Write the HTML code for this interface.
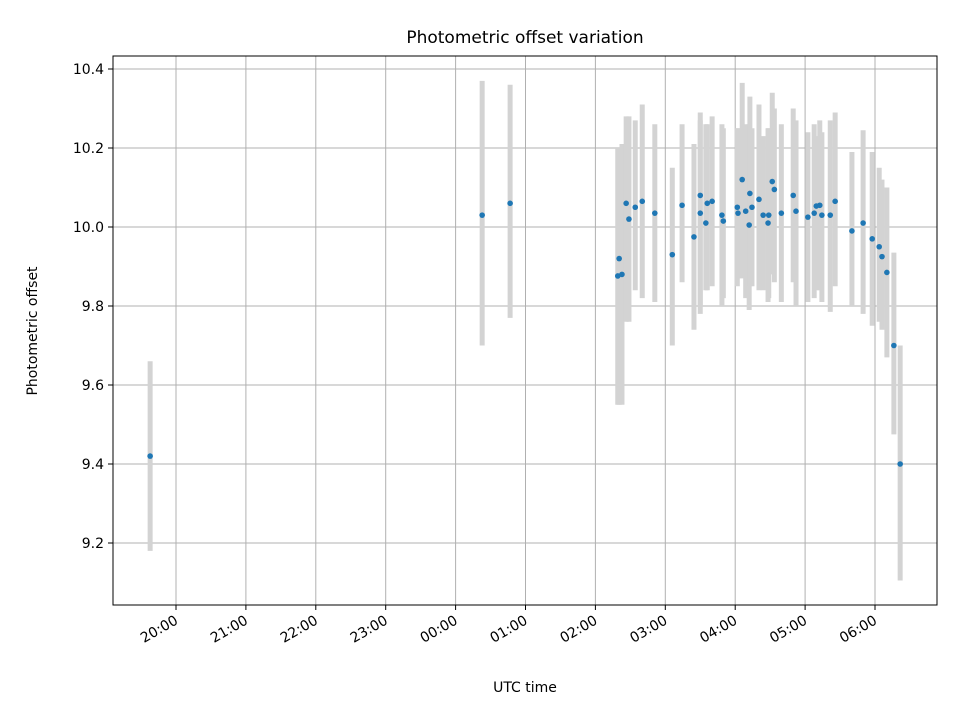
<!DOCTYPE html>
<html><head><meta charset="utf-8"><style>
body{margin:0;background:#fff;}
svg{display:block;font-family:"DejaVu Sans","Liberation Sans",sans-serif;}
</style></head><body>
<svg id="chart" width="960" height="720" viewBox="0 0 960 720">
<rect x="0" y="0" width="960" height="720" fill="#fff"/>
<text x="525" y="43" text-anchor="middle" font-size="17">Photometric offset variation</text>
<g id="grid"></g>
<g id="bars"></g>
<g id="pts"></g>
<rect x="113" y="56" width="824" height="549" fill="none" stroke="#000" stroke-width="1"/>
<g id="xt"></g><g id="yt"></g>
<text x="525" y="692" text-anchor="middle" font-size="14">UTC time</text>
<text x="37" y="331" text-anchor="middle" font-size="14" transform="rotate(-90 37 331)">Photometric offset</text>
</svg>
<script>
const times=[19.63,24.38,24.78,26.34,26.32,26.38,26.44,26.48,26.57,26.67,26.85,27.10,27.24,27.41,27.50,27.50,27.58,27.60,27.67,27.81,27.83,28.03,28.04,28.10,28.15,28.20,28.21,28.24,28.34,28.40,28.47,28.48,28.53,28.56,28.66,28.83,28.87,29.04,29.13,29.16,29.21,29.24,29.36,29.43,29.67,29.83,29.96,30.06,30.10,30.17,30.27,30.36];
const offsets=[9.42,10.03,10.06,9.92,9.876,9.88,10.06,10.02,10.05,10.065,10.035,9.93,10.055,9.975,10.08,10.035,10.01,10.06,10.065,10.03,10.015,10.05,10.035,10.12,10.04,10.005,10.085,10.05,10.07,10.03,10.01,10.03,10.115,10.095,10.035,10.08,10.04,10.025,10.035,10.053,10.055,10.03,10.03,10.065,9.99,10.01,9.97,9.95,9.925,9.885,9.70,9.40];
const errLow=[9.18,9.70,9.77,9.55,9.55,9.55,9.76,9.76,9.84,9.82,9.81,9.70,9.86,9.74,9.78,9.80,9.84,9.84,9.85,9.80,9.82,9.85,9.87,9.87,9.82,9.79,9.85,9.85,9.84,9.84,9.81,9.82,9.88,9.86,9.81,9.86,9.80,9.81,9.82,9.84,9.84,9.81,9.785,9.85,9.80,9.78,9.75,9.76,9.74,9.67,9.475,9.105];
const errHigh=[9.66,10.37,10.36,10.20,10.20,10.21,10.28,10.28,10.27,10.31,10.26,10.15,10.26,10.21,10.29,10.27,10.26,10.26,10.28,10.26,10.25,10.25,10.25,10.365,10.26,10.26,10.33,10.25,10.31,10.23,10.25,10.25,10.34,10.30,10.26,10.30,10.27,10.24,10.26,10.23,10.27,10.24,10.27,10.29,10.19,10.245,10.19,10.15,10.12,10.10,9.935,9.70];
const yTicks=[9.2,9.4,9.6,9.8,10.0,10.2,10.4];
const xTicks=[20,21,22,23,24,25,26,27,28,29,30];
const xTickLabels=["20:00","21:00","22:00","23:00","00:00","01:00","02:00","03:00","04:00","05:00","06:00"];

const NS="http://www.w3.org/2000/svg";
const xs=t=>176+(t-20)*69.9;
const ys=v=>69+(10.4-v)*395;
function mk(tag,attrs,parent){const e=document.createElementNS(NS,tag);for(const k in attrs)e.setAttribute(k,attrs[k]);parent.appendChild(e);return e;}
const grid=document.getElementById('grid'),bars=document.getElementById('bars'),pts=document.getElementById('pts'),xt=document.getElementById('xt'),yt=document.getElementById('yt');
xTicks.forEach((t,i)=>{
  const x=xs(t);
  const g=mk('line',{x1:x,x2:x,y1:56,y2:605,stroke:'#b0b0b0','stroke-width':1},grid);
  
  
  mk('line',{x1:x,x2:x,y1:605,y2:610,stroke:'#000'},xt);
  const tx=mk('text',{x:x+3,y:623,'text-anchor':'end','font-size':'14',transform:`rotate(-30 ${x+3} 623)`},xt);
  tx.textContent=xTickLabels[i];
  
  
});
yTicks.forEach(v=>{
  const y=ys(v);
  const g=mk('line',{x1:113,x2:937,y1:y,y2:y,stroke:'#b0b0b0','stroke-width':1},grid);
  
  
  mk('line',{x1:108,x2:113,y1:y,y2:y,stroke:'#000'},yt);
  const tx=mk('text',{x:104,y:y+5,'text-anchor':'end','font-size':'14'},yt);
  tx.textContent=v.toFixed(1);
  
  
});
times.forEach((t,i)=>{
  const x=xs(t);
  const b=mk('line',{x1:x,x2:x,y1:ys(errHigh[i]),y2:ys(errLow[i]),stroke:'#d3d3d3','stroke-width':5},bars);
  
  
});
times.forEach((t,i)=>{
  const c=mk('circle',{cx:xs(t),cy:ys(offsets[i]),r:2.8,fill:'#1f77b4'},pts);
  
  
});
</script>
</body></html>
